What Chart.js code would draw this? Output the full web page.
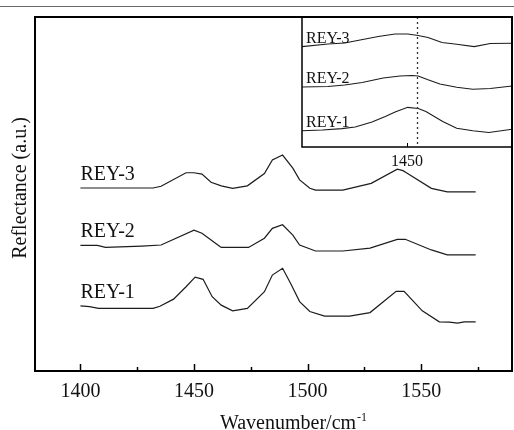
<!DOCTYPE html>
<html>
<head>
<meta charset="utf-8">
<script src="https://cdn.jsdelivr.net/npm/chart.js@4.4.1/dist/chart.umd.min.js"></script>
<style>
  body { margin: 0; background: #fff; }
  #wrap { position: relative; width: 514px; height: 430px; overflow: hidden; }
  #topline { position: absolute; left: 0; top: 6px; width: 514px; height: 1px; background: #6a6a6a; }
  #inset { position: absolute; left: 290px; top: 10px; z-index: 0; }
  #main { position: absolute; left: 0; top: 0; z-index: 1; }
</style>
</head>
<body>
<div id="wrap">
  <div id="topline"></div>
  <canvas id="inset" width="224" height="165"></canvas>
  <canvas id="main" width="514" height="430"></canvas>
</div>
<script>
// main spectra (wavenumber / reflectance a.u.)
const rey1X = [1400, 1404, 1408, 1432, 1435, 1441, 1446.5, 1450.5, 1454, 1458, 1462, 1467, 1473.5, 1481, 1484.5, 1489, 1492.5, 1496.5, 1501, 1507.5, 1518.5, 1527.5, 1539, 1542.5, 1550.5, 1558, 1562.5, 1566, 1569, 1574];
const rey1Y = [18.4, 18.2, 17.7, 17.7, 18.3, 20.3, 23.8, 26.5, 25.9, 21.0, 18.6, 17.0, 17.7, 22.4, 27.1, 29.0, 24.8, 19.6, 16.8, 15.5, 15.5, 16.5, 22.5, 22.5, 17.0, 13.9, 13.8, 13.5, 13.9, 13.9];

const rey2X = [1400, 1407.5, 1411, 1427, 1435.5, 1450, 1453.5, 1460.5, 1462, 1474, 1481, 1484.5, 1489, 1493.5, 1496.5, 1503.5, 1515.5, 1527.5, 1539.5, 1543, 1554.5, 1561.5, 1574];
const rey2Y = [35.5, 35.5, 34.9, 35.3, 35.6, 39.8, 38.9, 35.6, 34.9, 34.9, 37.5, 40.3, 41.3, 38.4, 35.6, 33.9, 33.9, 34.7, 37.2, 37.2, 34.2, 32.8, 32.8];

const rey3X = [1400, 1432, 1435.5, 1446.5, 1450, 1453.5, 1457.5, 1462, 1467, 1473.5, 1481, 1484.5, 1489, 1493.5, 1496.5, 1501, 1503.5, 1515.5, 1528, 1539.5, 1542, 1543.5, 1554.5, 1561.5, 1574];
const rey3Y = [51.7, 51.7, 52.2, 56.0, 56.0, 55.6, 53.3, 52.3, 51.6, 52.3, 55.8, 59.6, 61.0, 57.3, 54.0, 51.6, 51.1, 51.1, 53.0, 57.0, 56.6, 56.0, 51.6, 50.6, 50.6];

// inset, zoom around 1450
const inset1X = [1435, 1437.9, 1440.7, 1442.6, 1445, 1446.9, 1448.3, 1450.1, 1451.6, 1452.7, 1455.1, 1457.1, 1459.4, 1461.7, 1465];
const inset1Y = [12.5, 13.1, 14.1, 15.4, 19.2, 23.5, 26.9, 30.5, 29.6, 27.3, 19.6, 14.4, 12.5, 11.2, 13.7];
const inset2X = [1435, 1438.7, 1441.1, 1443.6, 1446.6, 1449, 1450.7, 1451.6, 1452.9, 1454.7, 1457.1, 1459.4, 1461.9, 1465];
const inset2Y = [46.2, 46.5, 47.7, 49.6, 53.1, 54.6, 55.0, 54.6, 51.9, 48.5, 46.0, 44.4, 45.0, 46.9];
const inset3X = [1435, 1438.7, 1441.1, 1443.3, 1445.9, 1448.3, 1450.1, 1451.6, 1453, 1455, 1457.1, 1459.6, 1461.9, 1465];
const inset3Y = [77.2, 79.2, 80.0, 82.3, 85.0, 86.9, 86.9, 85.8, 84.2, 80.4, 79.0, 77.2, 79.6, 79.8];

const labels = ['REY-1', 'REY-2', 'REY-3'];
const majorTicks = [1400, 1450, 1500, 1550];
const minorTicks = [1425, 1475, 1525, 1575];
const insetTick = 1450;
const insetMarker = 1451.4;

const serif = '"Liberation Serif", "Times New Roman", serif';
const lineColor = '#1c1c1c';

const toPoints = (xs, ys) => xs.map((x, i) => ({ x: x, y: ys[i] }));
const makeSet = (name, xs, ys, w) => ({
  label: name, data: toPoints(xs, ys),
  borderColor: lineColor, borderWidth: w, pointRadius: 0, tension: 0, fill: false
});

const mainDecor = {
  id: 'mainDecor',
  afterDraw(chart) {
    const { ctx, chartArea: a, scales: { x, y } } = chart;
    ctx.save();
    ctx.strokeStyle = '#000';
    // ticks point inward
    ctx.lineWidth = 1.5;
    majorTicks.forEach(v => {
      const px = Math.round(x.getPixelForValue(v)) + 0.5;
      ctx.beginPath(); ctx.moveTo(px, a.bottom); ctx.lineTo(px, a.bottom - 7); ctx.stroke();
    });
    minorTicks.forEach(v => {
      const px = Math.round(x.getPixelForValue(v)) + 0.5;
      ctx.beginPath(); ctx.moveTo(px, a.bottom); ctx.lineTo(px, a.bottom - 4); ctx.stroke();
    });
    ctx.lineWidth = 2;
    ctx.strokeRect(a.left, a.top, a.right - a.left, a.bottom - a.top);

    // series names above each curve start
    ctx.fillStyle = '#111';
    ctx.font = '20px ' + serif;
    ctx.textAlign = 'left';
    ctx.textBaseline = 'alphabetic';
    chart.data.datasets.forEach(ds => {
      const p = ds.data[0];
      ctx.fillText(ds.label, x.getPixelForValue(p.x), y.getPixelForValue(p.y) - 8);
    });

    // axis titles
    ctx.fillStyle = '#111';
    ctx.font = '20px ' + serif;
    const main = 'Wavenumber/cm';
    const mw = ctx.measureText(main).width;
    ctx.font = '12px ' + serif;
    const sw = ctx.measureText('-1').width;
    const sx = 293 - (mw + sw) / 2;
    ctx.font = '20px ' + serif;
    ctx.fillText(main, sx, 429);
    ctx.font = '12px ' + serif;
    ctx.fillText('-1', sx + mw + 1, 421);

    ctx.font = '20px ' + serif;
    ctx.translate(26, 188);
    ctx.rotate(-Math.PI / 2);
    ctx.textAlign = 'center';
    ctx.fillText('Reflectance (a.u.)', 0, 0);
    ctx.restore();
  }
};

new Chart(document.getElementById('main'), {
  type: 'line',
  data: {
    datasets: [
      makeSet(labels[2], rey3X, rey3Y, 1.2),
      makeSet(labels[1], rey2X, rey2Y, 1.2),
      makeSet(labels[0], rey1X, rey1Y, 1.2)
    ]
  },
  options: {
    responsive: false,
    animation: false,
    layout: { padding: { left: 35, top: 17, right: 2, bottom: 0 } },
    plugins: { legend: { display: false }, tooltip: { enabled: false } },
    scales: {
      x: {
        type: 'linear', min: 1380, max: 1590,
        afterBuildTicks: s => { s.ticks = majorTicks.map(v => ({ value: v })); },
        afterFit: s => { s.height = 59; },
        grid: { display: false, drawTicks: false },
        border: { display: false },
        ticks: { color: '#111', font: { family: serif, size: 20 }, padding: 9, maxRotation: 0,
          callback: v => String(v) }
      },
      y: { display: false, min: 0, max: 100 }
    }
  },
  plugins: [mainDecor]
});

const insetDecor = {
  id: 'insetDecor',
  afterDraw(chart) {
    const { ctx, chartArea: a, scales: { x, y } } = chart;
    ctx.save();
    ctx.strokeStyle = '#000';
    ctx.lineWidth = 1.5;
    ctx.strokeRect(a.left, a.top, a.right - a.left, a.bottom - a.top);
    const tx = Math.round(x.getPixelForValue(insetTick)) + 0.5;
    ctx.lineWidth = 1;
    ctx.beginPath(); ctx.moveTo(tx, a.bottom); ctx.lineTo(tx, a.bottom - 4); ctx.stroke();

    const dx = Math.round(x.getPixelForValue(insetMarker)) + 0.5;
    ctx.strokeStyle = '#333';
    ctx.lineWidth = 1.3;
    ctx.setLineDash([2, 3]);
    ctx.beginPath(); ctx.moveTo(dx, a.top); ctx.lineTo(dx, a.bottom); ctx.stroke();
    ctx.setLineDash([]);

    ctx.fillStyle = '#111';
    ctx.font = '16px ' + serif;
    ctx.textAlign = 'left';
    chart.data.datasets.forEach(ds => {
      const p = ds.data[0];
      ctx.fillText(ds.label, x.getPixelForValue(p.x) + 4, y.getPixelForValue(p.y) - 4);
    });
    ctx.restore();
  }
};

new Chart(document.getElementById('inset'), {
  type: 'line',
  data: {
    datasets: [
      makeSet(labels[2], inset3X, inset3Y, 1.1),
      makeSet(labels[1], inset2X, inset2Y, 1.1),
      makeSet(labels[0], inset1X, inset1Y, 1.1)
    ]
  },
  options: {
    responsive: false,
    animation: false,
    layout: { padding: { left: 12, top: 7, right: 2, bottom: 0 } },
    plugins: { legend: { display: false }, tooltip: { enabled: false } },
    scales: {
      x: {
        type: 'linear', min: 1435, max: 1465,
        afterBuildTicks: s => { s.ticks = [{ value: insetTick }]; },
        afterFit: s => { s.height = 28; },
        grid: { display: false, drawTicks: false },
        border: { display: false },
        ticks: { color: '#111', font: { family: serif, size: 16 }, padding: 5, maxRotation: 0,
          callback: v => String(v) }
      },
      y: { display: false, min: 0, max: 100 }
    }
  },
  plugins: [insetDecor]
});
</script>
</body>
</html>
